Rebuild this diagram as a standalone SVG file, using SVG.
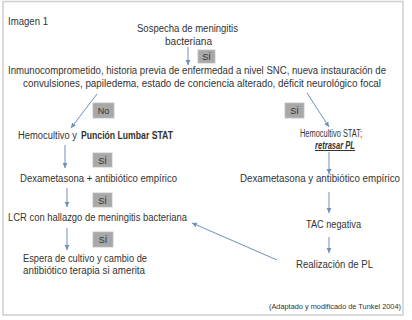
<svg xmlns="http://www.w3.org/2000/svg" width="412" height="320" viewBox="0 0 412 320">
<defs>
<style>
.t{font-family:"Liberation Sans",Arial,sans-serif;font-size:10px;fill:#333}
.b{font-weight:bold}
.s{font-size:7px}
.box{fill:#a8a8a8;stroke:#bdbdbd;stroke-width:0.8}
.bt{font-family:"Liberation Sans",Arial,sans-serif;font-size:9px;fill:#333;text-anchor:middle}
.c{stroke:#6f8fbf;stroke-width:1;fill:none;marker-end:url(#ah)}
</style>
<marker id="ah" markerWidth="6" markerHeight="6" refX="5" refY="3" orient="auto" markerUnits="userSpaceOnUse">
<path d="M0,0.6 L5,3 L0,5.4 Z" fill="#6f8fbf"/>
</marker>
</defs>
<rect x="0" y="0" width="412" height="320" fill="#fff"/>
<rect x="3" y="1.5" width="400" height="313.5" fill="#fff" stroke="#cfcfcf" stroke-width="1.5"/>
<text class="t" x="8" y="25" textLength="40" lengthAdjust="spacingAndGlyphs" font-size="9.5">Imagen 1</text>

<g id="connectors">
<line class="c" x1="188" y1="47" x2="188" y2="65"/>
<line class="c" x1="97" y1="94" x2="71" y2="128"/>
<line class="c" x1="307" y1="93" x2="329" y2="127"/>
<line class="c" x1="65" y1="145" x2="65" y2="168"/>
<line class="c" x1="67" y1="188" x2="67" y2="207"/>
<line class="c" x1="67" y1="228" x2="67" y2="250"/>
<line class="c" x1="329" y1="152" x2="329" y2="174"/>
<line class="c" x1="329" y1="192" x2="329" y2="213"/>
<line class="c" x1="329" y1="237" x2="329" y2="253"/>
<line class="c" x1="277" y1="260" x2="192" y2="223"/>
</g>

<g id="n_sospecha">
<text class="t" x="137" y="32" textLength="101" lengthAdjust="spacingAndGlyphs">Sospecha de meningitis</text>
<text class="t" x="165" y="45" textLength="47" lengthAdjust="spacingAndGlyphs">bacteriana</text>
</g>
<g id="l_si1"><rect class="box" x="198" y="50" width="17" height="13"/><text class="bt" x="206.5" y="60">SÍ</text></g>

<g id="n_criterios">
<text class="t" x="8" y="74" textLength="378" lengthAdjust="spacingAndGlyphs">Inmunocomprometido, historia previa de enfermedad a nivel SNC, nueva instauración de</text>
<text class="t" x="23" y="87" textLength="358" lengthAdjust="spacingAndGlyphs">convulsiones, papiledema, estado de conciencia  alterado, déficit neurológico focal</text>
</g>

<g id="l_no"><rect class="box" x="93" y="103" width="21" height="15"/><text class="bt" x="103.5" y="114">No</text></g>
<g id="l_si_r"><rect class="box" x="285" y="103" width="19" height="15"/><text class="bt" x="294.5" y="114">SÍ</text></g>

<g id="n_hemo_pl">
<text class="t" x="18" y="139" textLength="59" lengthAdjust="spacingAndGlyphs">Hemocultivo y</text>
<text class="t b" x="81" y="139" textLength="92" lengthAdjust="spacingAndGlyphs">Punción  Lumbar STAT</text>
</g>
<g id="l_si2"><rect class="box" x="93" y="153" width="19" height="14"/><text class="bt" x="102.5" y="163.5">SÍ</text></g>

<g id="n_dexa_l">
<text class="t" x="20" y="182" textLength="157" lengthAdjust="spacingAndGlyphs">Dexametasona + antibiótico empírico</text>
</g>
<g id="l_si3"><rect class="box" x="93" y="193" width="19" height="14"/><text class="bt" x="102.5" y="203.5">SÍ</text></g>

<g id="n_lcr">
<text class="t" x="8" y="221" textLength="179" lengthAdjust="spacingAndGlyphs">LCR con hallazgo de meningitis bacteriana</text>
</g>
<g id="l_si4"><rect class="box" x="93" y="232" width="20" height="15"/><text class="bt" x="103" y="243">SÍ</text></g>

<g id="n_espera">
<text class="t" x="23" y="262" textLength="124" lengthAdjust="spacingAndGlyphs">Espera de cultivo  y cambio de</text>
<text class="t" x="23" y="274" textLength="122" lengthAdjust="spacingAndGlyphs">antibiótico terapia si amerita</text>
</g>

<g id="n_hemo_stat">
<text class="t" x="300" y="137" textLength="62" lengthAdjust="spacingAndGlyphs" font-size="8.5">Hemocultivo STAT;</text>
<text class="t b" x="315" y="149" textLength="40" lengthAdjust="spacingAndGlyphs" font-size="8.5" font-style="italic" text-decoration="underline">retrasar PL</text>
</g>

<g id="n_dexa_r">
<text class="t" x="240" y="182" textLength="160" lengthAdjust="spacingAndGlyphs">Dexametasona y antibiótico empírico</text>
</g>

<g id="n_tac">
<text class="t" x="306" y="228" textLength="55" lengthAdjust="spacingAndGlyphs">TAC negativa</text>
</g>

<g id="n_realizacion">
<text class="t" x="296" y="268" textLength="77" lengthAdjust="spacingAndGlyphs">Realización de PL</text>
</g>

<text class="t s" x="269" y="309" textLength="132" lengthAdjust="spacingAndGlyphs">(Adaptado y modificado de Tunkel 2004)</text>
</svg>
